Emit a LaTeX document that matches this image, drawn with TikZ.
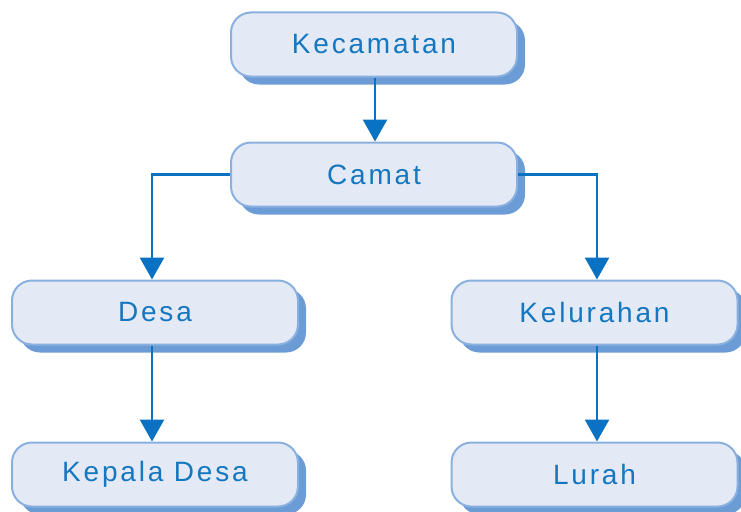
\documentclass[tikz,border=0pt]{standalone}
\usepackage{fontspec}
\setmainfont{Liberation Sans}[LetterSpace=10]
\usetikzlibrary{shadows,arrows.meta}
\definecolor{boxfill}{HTML}{E3EAF6}
\definecolor{boxline}{HTML}{8AB0E0}
\definecolor{shade}{HTML}{6C9CD6}
\definecolor{txt}{HTML}{1577C0}
\definecolor{conn}{HTML}{0A72C2}
\begin{document}
\begin{tikzpicture}[x=1pt,y=-1pt,
  orgbox/.style={draw=boxline, line width=2pt, fill=boxfill, rounded corners=20pt,
    minimum width=286pt, minimum height=64pt, inner sep=0pt,
    text=txt, font=\fontsize{28}{30}\selectfont,
    drop shadow={shadow xshift=8pt, shadow yshift=-8pt, fill=shade, opacity=1}},
  conn/.style={draw=conn, line width=2.8pt, -{Triangle[width=24pt,length=22pt]}}]
\useasboundingbox (0,0) rectangle (741,511);
\node[orgbox] (kec) at (374,44.5) {Kecamatan};
\node[orgbox] (cam) at (374,174.5) {Camat};
\node[orgbox] (desa) at (155,312.5) {Desa};
\node[orgbox] (kel) at (594.5,312.5) {Kelurahan};
\node[orgbox] (kd) at (155,474.5) {Kepala Desa};
\node[orgbox] (lur) at (594.5,474.5) {Lurah};
\draw[conn] (kec.south -| 375,0) -- (cam.north -| 375,0);
\draw[conn] (cam.west) -| (desa.north -| 152,0);
\draw[conn] (cam.east) -| (kel.north -| 597,0);
\draw[conn] (desa.south -| 152,0) -- (kd.north -| 152,0);
\draw[conn] (kel.south -| 597,0) -- (lur.north -| 597,0);
\end{tikzpicture}
\end{document}
